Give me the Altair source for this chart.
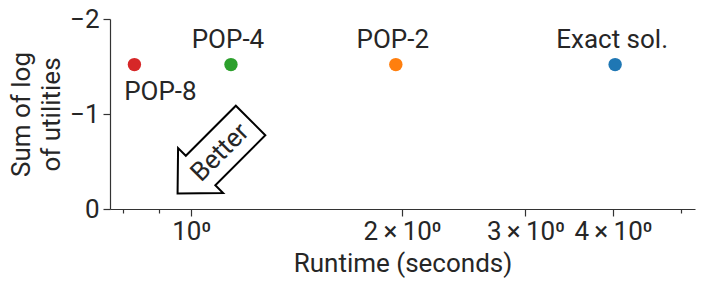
import altair as alt
import pandas as pd

# Data
methods = ["Exact sol.", "POP-2", "POP-4", "POP-8"]
runtimes = [4.03, 1.96, 1.14, 0.83]
utilities = [-1.52, -1.52, -1.52, -1.52]
colors = ["#1f77b4", "#ff7f0e", "#2ca02c", "#d62728"]
label_side = ["above", "above", "above", "below"]

x_ticks = [0.8, 0.9, 1, 2, 3, 4, 5]
y_ticks = [-2, -1, 0]

# annotation ("Better" arrow) anchor in data units
arrow_x = [1.105]
arrow_y = [-0.625]
arrow_text = ["Better"]

df = pd.DataFrame({"method": methods, "runtime": runtimes,
                   "utility": utilities, "side": label_side})
arrow_df = pd.DataFrame({"x": arrow_x, "y": arrow_y, "t": arrow_text})

FONT = "Roboto"
TXT = "#262626"
FS = 26

xscale = alt.Scale(type="log", domain=[0.766, 5.24], nice=False)
yscale = alt.Scale(domain=[-2, 0], reverse=True, nice=False)

x_axis = alt.Axis(
    values=x_ticks,
    title="Runtime (seconds)",
    labelExpr="datum.value == 1 ? '10\u2070' : (datum.value >= 2 && datum.value <= 4) ? datum.value + '\u2009\u00d7\u200910\u2070' : ''",
    tickSize={"condition": {"test": "datum.value == 1 || (datum.value >= 2 && datum.value <= 4)", "value": 7}, "value": 4},
    labelOverlap=False,
    labelFlush=False,
    labelBound=False,
    labelPadding=2,
    titlePadding=6,
    grid=False,
)
y_axis = alt.Axis(
    values=y_ticks,
    title=["Sum of log", "of utilities"],
    labelExpr="datum.value == 0 ? '0' : '\u2212' + abs(datum.value)",
    tickSize=7,
    labelPadding=4,
    titlePadding=5,
    titleLineHeight=30,
    grid=False,
)

base = alt.Chart(df)

points = base.mark_circle(size=180, opacity=1).encode(
    x=alt.X("runtime:Q", scale=xscale, axis=x_axis),
    y=alt.Y("utility:Q", scale=yscale, axis=y_axis),
    color=alt.Color("method:N", scale=alt.Scale(domain=methods, range=colors), legend=None),
)

labels_above = base.transform_filter("datum.side == 'above'").mark_text(
    font=FONT, fontSize=FS, color=TXT, align="center", baseline="alphabetic", dx=-3, dy=-17
).encode(x="runtime:Q", y="utility:Q", text="method:N")

labels_below = base.transform_filter("datum.side == 'below'").mark_text(
    font=FONT, fontSize=FS, color=TXT, align="center", baseline="alphabetic", dx=26, dy=35
).encode(x="runtime:Q", y="utility:Q", text="method:N")

arrow_path = ("M -0.878 0.878 L -0.868 -0.032 L -0.713 0.123 L 0.287 -0.877 "
              "L 0.877 -0.287 L -0.123 0.713 L 0.032 0.868 Z")
arrow = alt.Chart(arrow_df).mark_point(
    shape=arrow_path, size=10000, filled=True, fill="white", stroke="black",
    strokeWidth=2, opacity=1, fillOpacity=1, strokeOpacity=1
).encode(x="x:Q", y="y:Q")

arrow_label = alt.Chart(arrow_df).mark_text(
    font=FONT, fontSize=FS, color=TXT, align="center", baseline="middle", angle=315, dx=-3, dy=1
).encode(x="x:Q", y="y:Q", text="t:N")

chart = alt.layer(points, labels_above, labels_below, arrow, arrow_label).properties(
    width=585, height=190,
    autosize=alt.AutoSizeParams(type="none"),
    padding={"left": 102, "top": 11, "right": 2, "bottom": 70},
).configure_view(stroke=None).configure_axis(
    labelFont=FONT, titleFont=FONT, labelFontSize=FS, titleFontSize=FS,
    titleFontWeight="normal", labelColor=TXT, titleColor=TXT,
    domainColor="#333333", tickColor="#333333", domainWidth=1.2, tickWidth=1.2,
)

chart.save("out.html", embed_options={"renderer": "svg", "actions": False})
